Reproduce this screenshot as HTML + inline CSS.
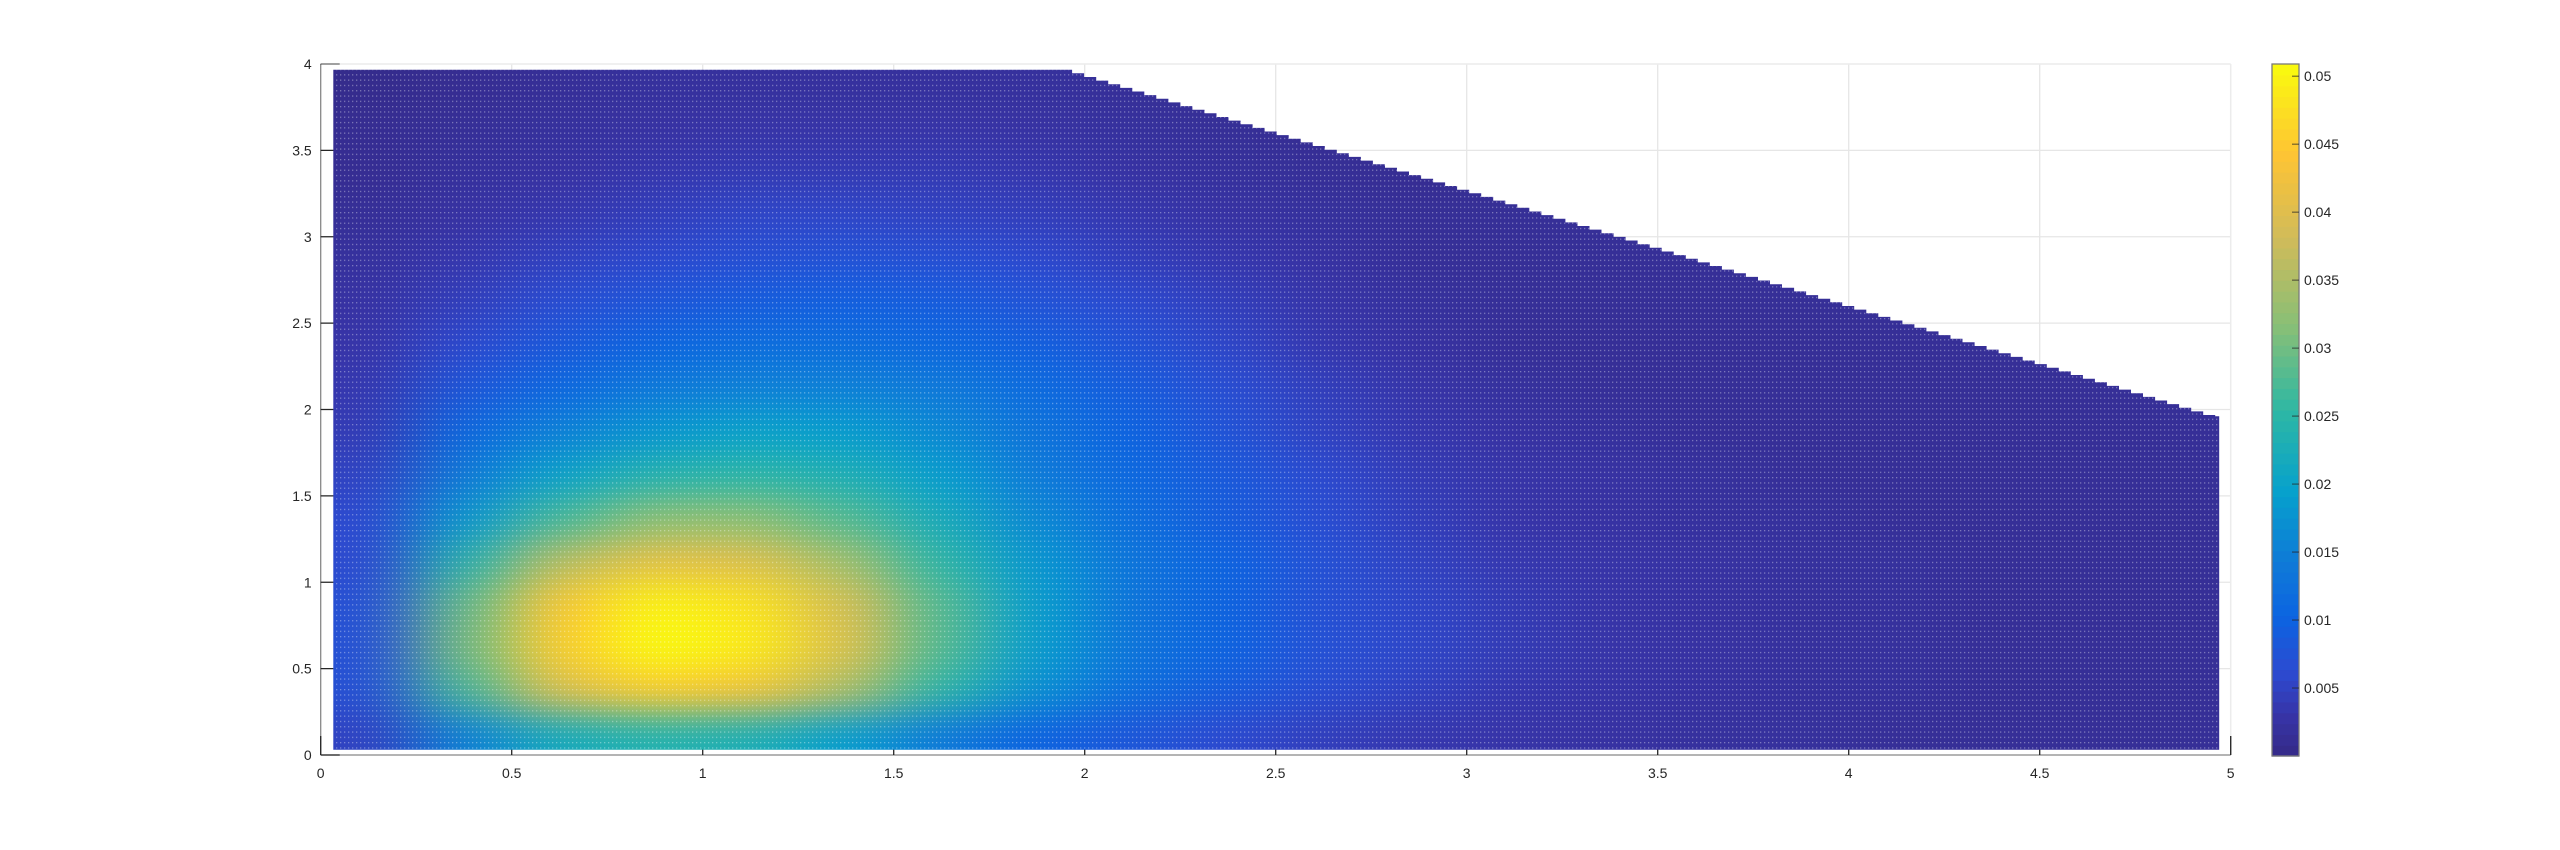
<!DOCTYPE html>
<html><head><meta charset="utf-8"><style>
html,body{margin:0;padding:0;background:#fff;width:2560px;height:850px;overflow:hidden;}
svg{display:block;font-family:"Liberation Sans",Arial,sans-serif;}
</style></head><body>
<svg id="chart" width="2560" height="850" viewBox="0 0 2560 850" xmlns="http://www.w3.org/2000/svg" style="overflow:hidden">
<defs>
<filter id="smooth" filterUnits="userSpaceOnUse" x="230" y="0" width="2090" height="850" color-interpolation-filters="sRGB">
<feGaussianBlur stdDeviation="22 10" result="a"/>
<feGaussianBlur in="a" stdDeviation="22 10" result="b"/>
<feGaussianBlur in="b" stdDeviation="22 10"/>
</filter>
<pattern id="dots" patternUnits="userSpaceOnUse" width="4" height="5.3"><rect x="0" y="0" width="1.3" height="1.3" fill="#ffffff" opacity="0.35"/></pattern>
<clipPath id="dataClip"><polygon id="clipPoly" points=""/></clipPath>
</defs>
<g id="grid"></g>
<g id="ticks"></g>
<g clip-path="url(#dataClip)"><g id="cells" filter="url(#smooth)"></g><rect x="300" y="50" width="1950" height="720" fill="url(#dots)"/></g>
<g id="axes"></g>
<g id="cbar"></g>
</svg>
<script>
// x/y cell centers (data units) and values (x 0.001)
const xCenters = [0.125,0.375,0.625,0.875,1.125,1.375,1.625,1.875,2.125,2.375,2.625,2.875,3.125,3.375,3.625,3.875,4.125,4.375,4.625,4.875];
const yCenters = [0.125,0.375,0.625,0.875,1.125,1.375,1.625,1.875,2.125,2.375,2.625,2.875,3.125,3.375,3.625,3.875];
const row0  = [5,15,22,24,23,19,14,10,8,6,4.5,3.5,3,2.5,2,2,1.5,1.5,1.5,1.5];
const row1  = [7,27,40,45,43,35,25,17,12,9,6.5,5,3.5,3,2.5,2,2,1.5,1.5,1.5];
const row2  = [7,30,45,51,49,40,28,19,13,10,7,5.5,4,3,2.5,2,2,1.5,1.5,1.5];
const row3  = [7,29,44,50,48,39,28,19,13,10,7,5.5,4,3,2.5,2,2,1.5,1.5,1.5];
const row4  = [6,24,36,41,40,34,25,18,13,10,7,5,3.5,3,2.5,2,2,1.5,1.5,1.5];
const row5  = [6,18,27,32,32,28,22,16,12,9,6.5,4.5,3,2.5,2,2,1.5,1.5,1.5,1.5];
const row6  = [5,14,20,24,25,23,19,14,11,8.5,6,4,3,2.5,2,1.5,1.5,1.5,1.5,1.5];
const row7  = [4,11,15,18,20,19,16,13,10,7.5,5,3.5,2.5,2,1.5,1.5,1.5,1.5,1.5,1.5];
const row8  = [3.5,8,11,14,15,15,14,11.5,9,6.5,4.5,3,2,1.5,1.5,1.5,1.5,1.5,1.5,1.5];
const row9  = [3,6,8.5,10.5,12,12,11,9.5,7.5,5.5,3.5,2.5,1.5,1.5,1.5,1.5,1.5,1.5,1.5,1.5];
const row10 = [2.5,4.5,6.5,8,9,9.5,9,7.5,6,4.5,3,2,1.5,1.5,1.5,1.5,1.5,1.5,1.5,1.5];
const row11 = [2,3.5,5,6,7,7.5,7,6,4.5,3.5,2.5,1.5,1.5,1.5,1.5,1.5,1.5,1.5,1.5,1.5];
const row12 = [1.5,2.5,3.5,4.5,5.5,5.5,5,4.5,3.5,2.5,2,1.5,1.5,1.5,1.5,1.5,1.5,1.5,1.5,1.5];
const row13 = [1,2,2.5,3.5,4,4,4,3.5,2.5,2,1.5,1,1,1,1,1,1,1,1,1];
const row14 = [1,1.5,2,2.5,3,3,3,2.5,2,1.5,1,1,1,1,1,1,1,1,1,1];
const row15 = [0.5,1,1.5,2,2,2,2,2,1.5,1,1,1,1,1,1,1,1,1,1,1];
const xTicks = [0,0.5,1,1.5,2,2.5,3,3.5,4,4.5,5];
const xTickLabels = ["0","0.5","1","1.5","2","2.5","3","3.5","4","4.5","5"];
const yTicks = [0,0.5,1,1.5,2,2.5,3,3.5,4];
const yTickLabels = ["0","0.5","1","1.5","2","2.5","3","3.5","4"];
const cTicks = [0.005,0.01,0.015,0.02,0.025,0.03,0.035,0.04,0.045,0.05];
const cTickLabels = ["0.005","0.01","0.015","0.02","0.025","0.03","0.035","0.04","0.045","0.05"];
const cMin = 0, cMax = 0.0509;

const rows=[row0,row1,row2,row3,row4,row5,row6,row7,row8,row9,row10,row11,row12,row13,row14,row15];
const NS="http://www.w3.org/2000/svg";
const X0=320.7,PX=382,Y0=755,PY=172.75;
const sx=v=>X0+v*PX, sy=v=>Y0-v*PY;
const CB={x:2272,w:27,top:64,bot:756};
const cy=v=>CB.bot-(v-cMin)/(cMax-cMin)*(CB.bot-CB.top);
const stops=[[0,[53,42,135]],[0.06,[55,52,168]],[0.12,[45,74,208]],[0.2,[12,100,225]],[0.28,[15,122,215]],[0.38,[6,160,205]],[0.5,[46,183,164]],[0.62,[135,191,119]],[0.75,[209,187,89]],[0.87,[254,196,52]],[1,[249,251,14]]];
function parula(t){t=Math.max(0,Math.min(1,t));for(let i=1;i<stops.length;i++){if(t<=stops[i][0]){const a=stops[i-1],b=stops[i];const f=(t-a[0])/(b[0]-a[0]);return 'rgb('+[0,1,2].map(k=>Math.round(a[1][k]+f*(b[1][k]-a[1][k]))).join(',')+')';}}return 'rgb(249,251,14)';}
function mk(tag,attrs,parent){const e=document.createElementNS(NS,tag);for(const k in attrs)e.setAttribute(k,attrs[k]);parent.appendChild(e);return e;}
const g=id=>document.getElementById(id);

// grid
xTicks.forEach(t=>{if(t>0&&t<5){const l=mk('line',{x1:sx(t),x2:sx(t),y1:sy(4),y2:sy(0),stroke:'#e6e6e6','stroke-width':1.3},g('grid'));}});
yTicks.forEach(t=>{if(t>0&&t<4){const l=mk('line',{x1:sx(0),x2:sx(5),y1:sy(t),y2:sy(t),stroke:'#e6e6e6','stroke-width':1.3},g('grid'));}});
// ticks (inward)
xTicks.forEach(t=>{const l=mk('line',{x1:sx(t),x2:sx(t),y1:Y0,y2:Y0-19,stroke:'#262626','stroke-width':1.3},g('ticks'));});
yTicks.forEach(t=>{const l=mk('line',{x1:X0,x2:X0+19,y1:sy(t),y2:sy(t),stroke:'#262626','stroke-width':1.3},g('ticks'));});

// cells (edge cells padded outward so the blur does not fade at the borders)
const hx=0.125,hy=0.125;
rows.forEach((row,j)=>{row.forEach((v,i)=>{
  const xa=i===0?-0.25:xCenters[i]-hx, xb=i===xCenters.length-1?5.25:xCenters[i]+hx;
  const ya=j===0?-0.45:yCenters[j]-hy, yb=j===yCenters.length-1?4.35:yCenters[j]+hy;
  const r=mk('rect',{x:sx(xa),y:sy(yb),width:sx(xb)-sx(xa)+0.5,height:sy(ya)-sy(yb)+0.5,fill:parula((v*0.001-cMin)/(cMax-cMin))},g('cells'));
  
  
});});

// clip polygon (staircase domain)
(function(){const L=0.033,B=0.03,T=3.967,R=4.97,xs=1.967,w=0.0315,slope=0.668;
 const pts=[[L,B],[L,T],[xs,T]];let x=xs;
 while(x<R-1e-6){const nx=Math.min(R,x+w);const top=T-slope*(nx-xs);pts.push([x,top],[nx,top]);x=nx;}
 pts.push([R,B]);
 g('clipPoly').setAttribute('points',pts.map(p=>sx(p[0]).toFixed(1)+','+sy(p[1]).toFixed(1)).join(' '));})();

// axes lines
const ax=g('axes');
mk('line',{x1:X0,x2:sx(5),y1:sy(4),y2:sy(4),stroke:'#ececec','stroke-width':1.5},ax);
mk('line',{x1:sx(5),x2:sx(5),y1:sy(4),y2:Y0-19,stroke:'#ececec','stroke-width':1.5},ax);
const xl=mk('line',{x1:X0,x2:sx(5),y1:Y0,y2:Y0,stroke:'#262626','stroke-width':1.3,opacity:0.55},ax);

const yl=mk('line',{x1:X0,x2:X0,y1:sy(4),y2:Y0,stroke:'#262626','stroke-width':1.3,opacity:0.55},ax);

mk('line',{x1:sx(5),x2:sx(5),y1:Y0-19,y2:Y0,stroke:'#262626','stroke-width':1.3,opacity:0.55},ax);
mk('line',{x1:X0,x2:X0+19,y1:sy(4),y2:sy(4),stroke:'#262626','stroke-width':1.3,opacity:0.55},ax);
xTicks.forEach((t,i)=>{const e=mk('text',{x:sx(t),y:Y0+23,'text-anchor':'middle','font-size':14,fill:'#262626'},ax);e.textContent=xTickLabels[i];});
yTicks.forEach((t,i)=>{const e=mk('text',{x:X0-9,y:sy(t)+5,'text-anchor':'end','font-size':14,fill:'#262626'},ax);e.textContent=yTickLabels[i];});

// colorbar
const cb=g('cbar');const N=64;
for(let k=0;k<N;k++){const v0=cMin+(cMax-cMin)*k/N,v1=cMin+(cMax-cMin)*(k+1)/N;
 const r=mk('rect',{x:CB.x,y:cy(v1),width:CB.w,height:cy(v0)-cy(v1)+0.6,fill:parula((k+0.5)/N)},cb);
 }
mk('rect',{x:CB.x,y:CB.top,width:CB.w,height:CB.bot-CB.top,fill:'none',stroke:'#7a7a7a','stroke-width':1.3},cb);
cTicks.forEach((t,i)=>{mk('line',{x1:CB.x+CB.w-7,x2:CB.x+CB.w,y1:cy(t),y2:cy(t),stroke:'#262626','stroke-width':1.3,opacity:0.6},cb);
 const e=mk('text',{x:CB.x+CB.w+5,y:cy(t)+5,'font-size':14,fill:'#262626'},cb);e.textContent=cTickLabels[i];
 });
</script>
</body></html>
